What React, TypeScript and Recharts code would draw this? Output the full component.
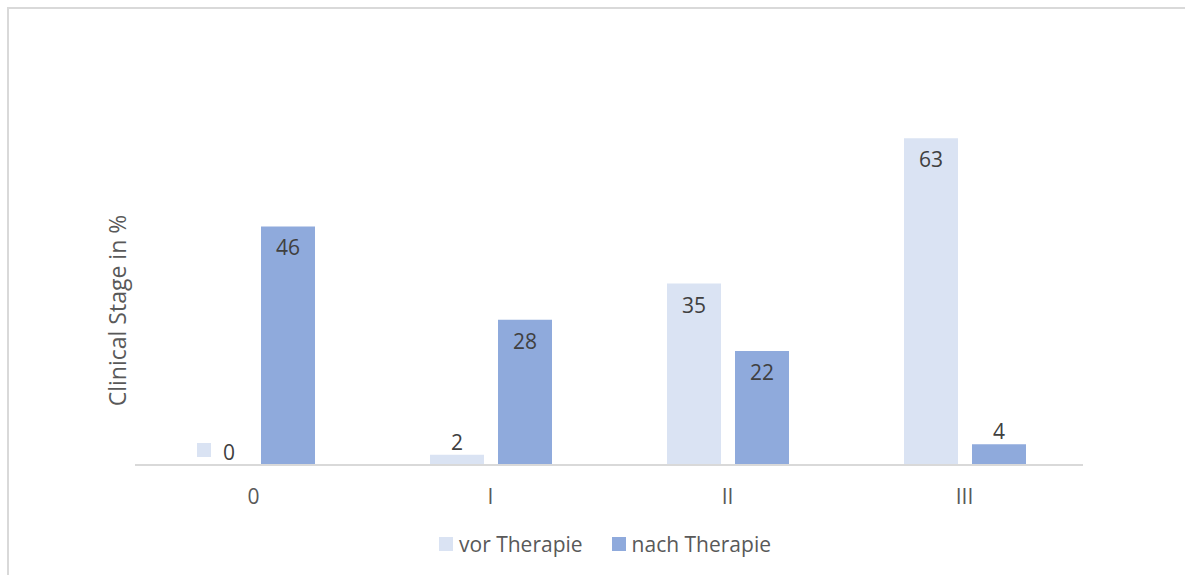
import { Bar, BarChart, LabelList, Legend, XAxis, YAxis } from 'recharts'

const stages = ['0', 'I', 'II', 'III']
const vorTherapie = [0, 2, 35, 63]
const nachTherapie = [46, 28, 22, 4]
const seriesNames = ['vor Therapie', 'nach Therapie']

const VOR_COLOR = '#dae3f3'
const NACH_COLOR = '#8faadc'
const FONT = '"Open Sans", "Noto Sans", sans-serif'
const BAR_GAP = 14

const data = stages.map((stage, i) => ({
  stage,
  vor: vorTherapie[i],
  nach: nachTherapie[i],
}))

const textStyle = { fontFamily: FONT, fontSize: 21, fill: '#404040' }

// zero value: Excel shows the legend key next to the label
function ZeroLabel({ cx, y, color }: { cx: number; y: number; color: string }) {
  return (
    <g>
      <rect x={cx - 23} y={y - 22} width={14} height={14} fill={color} />
      <text x={cx + 9} y={y - 13} textAnchor="middle" dominantBaseline="central" style={textStyle}>
        0
      </text>
    </g>
  )
}

function readBox(props: any) {
  const vb = props.viewBox ?? props
  return {
    x: Number(vb.x ?? props.x),
    y: Number(vb.y ?? props.y),
    width: Number(vb.width ?? props.width),
    height: Number(vb.height ?? props.height),
  }
}

function VorLabel(props: any) {
  const { x, y, width } = readBox(props)
  const value = Number(props.value)
  const cx = x + width / 2
  if (value === 0) return <ZeroLabel cx={cx} y={y} color={VOR_COLOR} />
  const cy = value < 10 ? y - 13 : y + 21
  return (
    <text x={cx} y={cy} textAnchor="middle" dominantBaseline="central" style={textStyle}>
      {value}
    </text>
  )
}

function NachLabel(props: any) {
  const { x, y, width, height } = readBox(props)
  const value = Number(props.value)
  const cx = x + width / 2
  const idx = Number(props.index)
  const base = y + height
  // zero-height vor bars get no label entry of their own, so draw it from here
  const vorZero = vorTherapie[idx] === 0
  const cy = value < 10 ? y - 13 : y + 21
  return (
    <g>
      {vorZero && <ZeroLabel cx={x - BAR_GAP - width / 2} y={base} color={VOR_COLOR} />}
      <text x={cx} y={cy} textAnchor="middle" dominantBaseline="central" style={textStyle}>
        {value}
      </text>
    </g>
  )
}

function AxisTitle(props: any) {
  const vb = props.viewBox
  const x = vb.x + 31
  const y = vb.y + vb.height / 2 + 27
  return (
    <text
      x={x}
      y={y}
      transform={`rotate(-90, ${x}, ${y})`}
      textAnchor="middle"
      style={{ fontFamily: FONT, fontSize: 23, fill: '#595959' }}
    >
      Clinical Stage in %
    </text>
  )
}

function LegendContent() {
  const items = [
    { name: seriesNames[0], color: VOR_COLOR },
    { name: seriesNames[1], color: NACH_COLOR },
  ]
  return (
    <div
      style={{
        display: 'flex',
        justifyContent: 'center',
        alignItems: 'center',
        height: 28,
        paddingLeft: 32,
        gap: 29,
        fontFamily: FONT,
        fontSize: 21,
        color: '#595959',
      }}
    >
      {items.map((it) => (
        <div key={it.name} style={{ display: 'flex', alignItems: 'center' }}>
          <span style={{ width: 14, height: 14, background: it.color, marginRight: 6, display: 'inline-block' }} />
          <span>{it.name}</span>
        </div>
      ))}
    </div>
  )
}

export default function App() {
  return (
    <>
      <div
        style={{
          position: 'absolute',
          left: 7,
          top: 7,
          width: 1178,
          height: 568,
          boxSizing: 'border-box',
          borderTop: '2px solid #d9d9d9',
          borderLeft: '2px solid #d9d9d9',
        }}
      />
      <div style={{ position: 'absolute', left: 0, top: 0 }}>
        <BarChart
          width={1185}
          height={575}
          data={data}
          margin={{ top: 102, right: 102, bottom: 17, left: 95 }}
          barCategoryGap={58}
          barGap={BAR_GAP}
        >
          <XAxis
            dataKey="stage"
            height={65}
            tickLine={false}
            axisLine={{ stroke: '#d9d9d9', strokeWidth: 2 }}
            tickMargin={18}
            tick={{ fill: '#595959', fontSize: 21, fontFamily: FONT }}
          />
          <YAxis
            domain={[0, 70]}
            width={40}
            axisLine={false}
            tickLine={false}
            tick={false}
            label={{ content: AxisTitle }}
          />
          <Legend verticalAlign="bottom" height={28} content={LegendContent} />
          <Bar dataKey="vor" name={seriesNames[0]} fill={VOR_COLOR} isAnimationActive={false}>
            <LabelList dataKey="vor" content={VorLabel} />
          </Bar>
          <Bar dataKey="nach" name={seriesNames[1]} fill={NACH_COLOR} isAnimationActive={false}>
            <LabelList dataKey="nach" content={NachLabel} />
          </Bar>
        </BarChart>
      </div>
    </>
  )
}
